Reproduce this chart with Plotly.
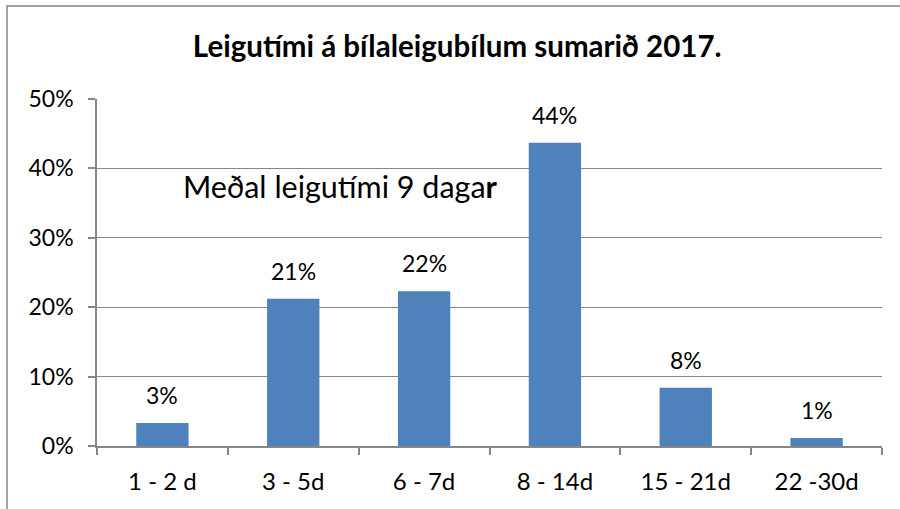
import plotly.graph_objects as go

categories = ["1 - 2 d", "3 - 5d", "6 - 7d", "8 - 14d", "15 - 21d", "22 -30d"]
values = [0.033, 0.212, 0.223, 0.437, 0.084, 0.0115]
title_text = "<b>Leigutími á bílaleigubílum sumarið 2017.</b>"
note_text = "Meðal leigutími 9 daga<b>r</b>"

FONT = "Lato, 'Open Sans', sans-serif"
AXIS = "#868686"

fig = go.Figure()
fig.add_trace(go.Bar(
    x=categories, y=values, width=0.4,
    marker=dict(color="#4F81BD", line=dict(width=0)),
    hoverinfo="skip",
))

for c, v in zip(categories, values):
    fig.add_annotation(x=c, y=v, text=f"{round(v*100):d}%", showarrow=False,
                       yanchor="bottom", yshift=12,
                       font=dict(family=FONT, size=23, color="#000"))

fig.add_annotation(x=0.31, xref="paper", y=0.3746, yref="y", text=note_text,
                   showarrow=False, xanchor="center", yanchor="middle",
                   font=dict(family=FONT, size=30.5, color="#000"))

# outer chart border (top and left visible, cropped right/bottom)
fig.add_shape(type="rect", xref="paper", yref="paper",
              x0=-90/785, x1=1.5, y0=-1, y1=(509-63-6)/347,
              line=dict(color=AXIS, width=1.5), fillcolor="rgba(0,0,0,0)",
              layer="below")

fig.update_layout(
    width=900, height=509,
    margin=dict(l=97, r=18, t=99, b=63),
    paper_bgcolor="white", plot_bgcolor="white",
    showlegend=False,
    title=dict(text=title_text, x=0.508, xanchor="center", y=1-47/509, yanchor="middle",
               font=dict(family=FONT, size=29.5, color="#000")),
    bargap=0.6,
    font=dict(family=FONT, size=23, color="#000"),
)
fig.update_xaxes(
    showline=True, linecolor=AXIS, linewidth=1.5,
    ticks="outside", ticklen=7, tickcolor=AXIS, tickwidth=1.5,
    tickson="boundaries", showgrid=False,
    tickfont=dict(family=FONT, size=24, color="#000"),
    ticklabelstandoff=13,
    range=[-0.5, 5.5],
)
fig.update_yaxes(
    range=[0, 0.5], dtick=0.1, tickformat=".0%",
    showline=True, linecolor=AXIS, linewidth=1.5,
    ticks="outside", ticklen=7, tickcolor=AXIS, tickwidth=1.5,
    showgrid=True, gridcolor=AXIS, gridwidth=1.2,
    zeroline=False,
    tickfont=dict(family=FONT, size=23, color="#000"),
    ticklabelstandoff=10,
)

fig.write_html("out.html", config={"displayModeBar": False},
               post_script="document.body.style.margin='0';")
